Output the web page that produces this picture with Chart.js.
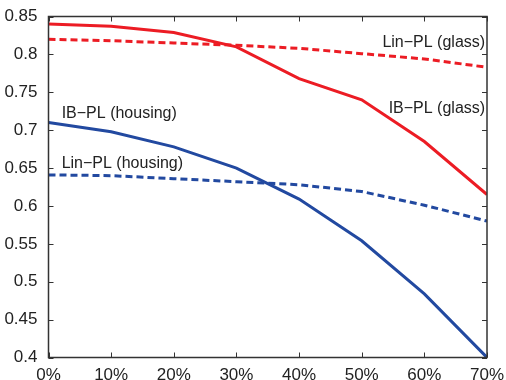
<!DOCTYPE html>
<html>
<head>
<meta charset="utf-8">
<script src="https://cdn.jsdelivr.net/npm/chart.js@4/dist/chart.umd.min.js"></script>
<style>
  html, body { margin: 0; padding: 0; background: #fff; }
  #wrap { width: 506px; height: 380px; }
</style>
</head>
<body>
<div id="wrap"><canvas id="chart" width="506" height="380"></canvas></div>
<script>
"use strict";

// Data
var xValues = [0, 10, 20, 30, 40, 50, 60, 70];
var ibGlass = [0.840, 0.837, 0.829, 0.810, 0.768, 0.740, 0.685, 0.615];
var linGlass = [0.820, 0.818, 0.815, 0.812, 0.808, 0.801, 0.794, 0.783];
var ibHousing = [0.710, 0.698, 0.678, 0.650, 0.609, 0.554, 0.484, 0.400];
var linHousing = [0.641, 0.640, 0.636, 0.632, 0.628, 0.619, 0.601, 0.580];
var seriesNames = ["IB\u2212PL (glass)", "Lin\u2212PL (glass)", "IB\u2212PL (housing)", "Lin\u2212PL (housing)"];

var RED = "#ec1c24";
var BLUE = "#2249a0";
var AXIS = "#333333";
var FONT = "'Liberation Sans', Arial, Helvetica, sans-serif";

function points(ys) {
    return xValues.map(function (x, i) { return { x: x, y: ys[i] }; });
}

function series(label, ys, color, dashed) {
    return {
        label: label,
        data: points(ys),
        borderColor: color,
        backgroundColor: color,
        borderWidth: 3,
        borderDash: dashed ? [7, 4] : [],
        pointRadius: 0,
        tension: 0,
        fill: false
    };
}

// text labels placed in data coordinates
var annotations = [
    { text: seriesNames[1], x: 69.7, y: 0.8154, align: "right" },
    { text: seriesNames[0], x: 69.7, y: 0.728, align: "right" },
    { text: seriesNames[2], x: 2.1, y: 0.7213, align: "left" },
    { text: seriesNames[3], x: 2.1, y: 0.6554, align: "left" }
];

// box + inward ticks on all four sides
var framePlugin = {
    id: "frame",
    afterDatasetsDraw: function (chart) {
        var ctx = chart.ctx;
        var a = chart.chartArea;
        var xs = chart.scales.x, ys = chart.scales.y;
        ctx.save();
        ctx.strokeStyle = AXIS;
        ctx.lineWidth = 1;
        xs.ticks.forEach(function (t) {
            var px = Math.round(xs.getPixelForValue(t.value)) + 0.5;
            ctx.beginPath();
            ctx.moveTo(px, a.bottom); ctx.lineTo(px, a.bottom - 5);
            ctx.moveTo(px, a.top); ctx.lineTo(px, a.top + 5);
            ctx.stroke();
        });
        ys.ticks.forEach(function (t) {
            var py = Math.round(ys.getPixelForValue(t.value)) + 0.5;
            ctx.beginPath();
            ctx.moveTo(a.left, py); ctx.lineTo(a.left + 5, py);
            ctx.moveTo(a.right, py); ctx.lineTo(a.right - 5, py);
            ctx.stroke();
        });
        ctx.lineWidth = 1.5;
        ctx.strokeRect(a.left, a.top, a.right - a.left, a.bottom - a.top);

        ctx.fillStyle = "#222";
        ctx.font = "16px " + FONT;
        ctx.textBaseline = "middle";
        annotations.forEach(function (n) {
            ctx.textAlign = n.align;
            ctx.fillText(n.text, xs.getPixelForValue(n.x), ys.getPixelForValue(n.y));
        });
        ctx.restore();
    }
};

Chart.defaults.font.family = FONT;
Chart.defaults.color = "#222";

new Chart(document.getElementById("chart"), {
    type: "line",
    data: {
        datasets: [
            series(seriesNames[0], ibGlass, RED, false),
            series(seriesNames[1], linGlass, RED, true),
            series(seriesNames[2], ibHousing, BLUE, false),
            series(seriesNames[3], linHousing, BLUE, true)
        ]
    },
    options: {
        responsive: false,
        animation: false,
        layout: { padding: { left: 0, top: 16.5, right: 19, bottom: 0 } },
        plugins: { legend: { display: false }, tooltip: { enabled: false } },
        scales: {
            x: {
                type: "linear",
                min: 0,
                max: 70,
                grid: { display: false },
                border: { display: false },
                afterFit: function (s) { s.height = 22.5; },
                ticks: {
                    stepSize: 10,
                    padding: 0,
                    maxRotation: 0,
                    font: { size: 17 },
                    callback: function (v) { return v + "%"; }
                }
            },
            y: {
                min: 0.4,
                max: 0.85,
                grid: { display: false },
                border: { display: false },
                afterFit: function (s) { s.width = 48.5; },
                ticks: {
                    stepSize: 0.05,
                    padding: 3,
                    font: { size: 17 },
                    callback: function (v) { return String(Number(v.toFixed(2))); }
                }
            }
        }
    },
    plugins: [framePlugin]
});
</script>
</body>
</html>
